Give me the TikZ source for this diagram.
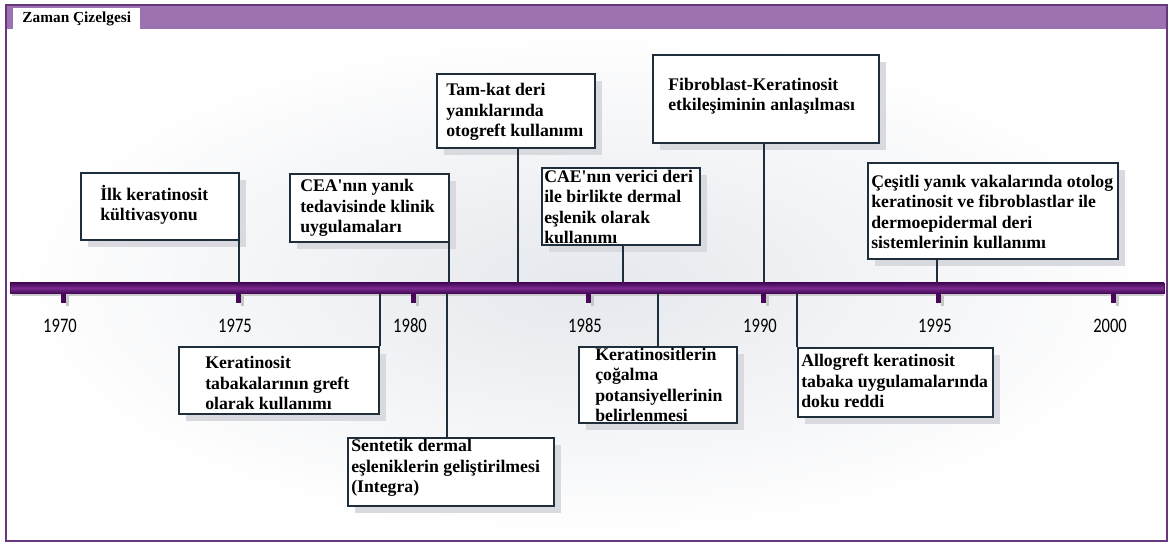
\documentclass[tikz,border=0pt]{standalone}
\usepackage{fontspec}
\setmainfont{Liberation Serif}
\newfontfamily\yearfont[FakeStretch=0.8]{Carlito}
\usepackage{tikz}
\usetikzlibrary{calc,positioning,shadows}

\definecolor{headpurple}{RGB}{156,115,176}
\definecolor{framepurple}{RGB}{105,55,125}
\definecolor{barpurple}{RGB}{122,42,142}
\definecolor{bardark}{RGB}{72,10,90}
\definecolor{tickpurple}{RGB}{72,8,90}
\definecolor{boxline}{RGB}{32,46,60}
\definecolor{bggrey}{RGB}{229,232,237}
\definecolor{shadowgrey}{RGB}{216,218,223}

\tikzset{
        eventbox/.style = {draw=boxline, fill=white, line width=1.3pt, rectangle,
            inner sep=0pt, anchor=north west,
            drop shadow={shadow xshift=5pt, shadow yshift=-5pt, fill=shadowgrey, opacity=1}},
        eventtext/.style = {anchor=west, align=left, inner sep=0pt,
            font=\fontsize{13.3}{15.4}\selectfont\bfseries},
        yearlabel/.style = {font=\yearfont\fontsize{15.5}{16}\selectfont, inner sep=0pt},
        stem/.style = {draw=boxline, line width=1.4pt},
        timebar/.style = {rectangle, inner sep=0pt, top color=bardark, bottom color=bardark,
            middle color=barpurple, draw=bardark, line width=0.5pt},
        titletab/.style = {rectangle, fill=white, anchor=north west, inner sep=0pt,
            font=\fontsize{11.5}{13}\selectfont\bfseries},
    }

\begin{document}
\begin{tikzpicture}[x=0.75pt,y=0.75pt,yscale=-1,xscale=1]
    \useasboundingbox (0,0) rectangle (1172,545);

    %Shape: Frame
    \shade[inner color=bggrey, outer color=white] (7,29) rectangle (1166,540);
    \fill[headpurple] (6,5) rectangle (1167,29);
    \draw[framepurple, line width=1.5pt] (6,5) rectangle (1167,541);
    % Text Node
    \node[titletab, minimum width=95.25pt, minimum height=15.75pt] (title) at (13,8) {Zaman Çizelgesi};

    %Shape: Time axis
    \fill[gray!40] (12,293) rectangle (1164,296.5);
    \node[timebar, minimum width=865.5pt, minimum height=7.5pt] (axis) at (587,288) {};
    \foreach \yr [count=\i from 0] in {1970,1975,...,2000}{
        \fill[gray!45] ({66+175*\i},295) rectangle +(3,11);
        \fill[tickpurple] ({61+175*\i},293) rectangle +(5,10);
        \node[yearlabel] (yr\yr) at ({60+175*\i},326) {\yr};
    }

    %Shape: Rectangle (above the axis)
    \node[eventbox, minimum width=118.5pt, minimum height=50.25pt] (ilk) at (80,172) {};
    \node[eventbox, minimum width=119.25pt, minimum height=51pt] (cea) at (289,173) {};
    \node[eventbox, minimum width=118.5pt, minimum height=55.5pt] (tamkat) at (436,73) {};
    \node[eventbox, minimum width=118.5pt, minimum height=57.75pt] (cae) at (541,167) {};
    \node[eventbox, minimum width=169.5pt, minimum height=66pt] (fibro) at (652,54) {};
    \node[eventbox, minimum width=187.5pt, minimum height=72pt] (cesitli) at (867,162) {};
    %Shape: Rectangle (below the axis)
    \node[eventbox, minimum width=150pt, minimum height=50.25pt] (kertab) at (178,346) {};
    \node[eventbox, minimum width=154.5pt, minimum height=51pt] (sentetik) at (347,437) {};
    \node[eventbox, minimum width=118.5pt, minimum height=57pt] (kerlerin) at (578,346) {};
    \node[eventbox, minimum width=146.25pt, minimum height=51.75pt] (allogreft) at (797,347) {};

    % Text Node
    \node[eventtext] (ilk-t) at (100,205) {İlk keratinosit\\kültivasyonu};
    % Text Node
    \node[eventtext] (cea-t) at (300,208) {CEA\textquotesingle nın yanık\\tedavisinde klinik\\uygulamaları};
    % Text Node
    \node[eventtext] (tamkat-t) at (446,112) {Tam-kat deri\\yanıklarında\\otogreft kullanımı};
    % Text Node
    \node[eventtext] (cae-t) at (544,207) {CAE\textquotesingle nın verici deri\\ile birlikte dermal\\eşlenik olarak\\kullanımı};
    % Text Node
    \node[eventtext] (fibro-t) at (668,96) {Fibroblast-Keratinosit\\etkileşiminin anlaşılması};
    % Text Node
    \node[eventtext] (cesitli-t) at (871,212) {Çeşitli yanık vakalarında otolog\\keratinosit ve fibroblastlar ile\\dermoepidermal deri\\sistemlerinin kullanımı};
    % Text Node
    \node[eventtext] (kertab-t) at (205,383) {Keratinosit\\tabakalarının greft\\olarak kullanımı};
    % Text Node
    \node[eventtext] (sentetik-t) at (351,468) {Sentetik dermal\\eşleniklerin geliştirilmesi\\(Integra)};
    % Text Node
    \node[eventtext] (kerlerin-t) at (595,385) {Keratinositlerin\\çoğalma\\potansiyellerinin\\belirlenmesi};
    % Text Node
    \node[eventtext] (allogreft-t) at (801,381) {Allogreft keratinosit\\tabaka uygulamalarında\\doku reddi};

    %Straight Lines (stems)
    \coordinate (s1) at ($(ilk.south east)+(-1,0)$);
    \coordinate (s2) at ($(cea.south east)+(-1,0)$);
    \coordinate (s3) at ($(tamkat.south)+(2,0)$);
    \coordinate (s4) at ($(cae.south)+(2,0)$);
    \coordinate (s5) at ($(fibro.south)+(-2,0)$);
    \coordinate (s6) at ($(cesitli.south west)+(70,0)$);
    \coordinate (s7) at (kertab.north east);
    \coordinate (s8) at ($(sentetik.north west)+(100,0)$);
    \coordinate (s9) at (kerlerin.north);
    \coordinate (s10) at (allogreft.north west);
    \foreach \s in {s1,s2,s3,s4,s5,s6}
        \draw[stem] (\s) -- (\s |- axis.north);
    \foreach \s in {s7,s8,s9,s10}
        \draw[stem] (\s) -- (\s |- axis.south);

\end{tikzpicture}
\end{document}
